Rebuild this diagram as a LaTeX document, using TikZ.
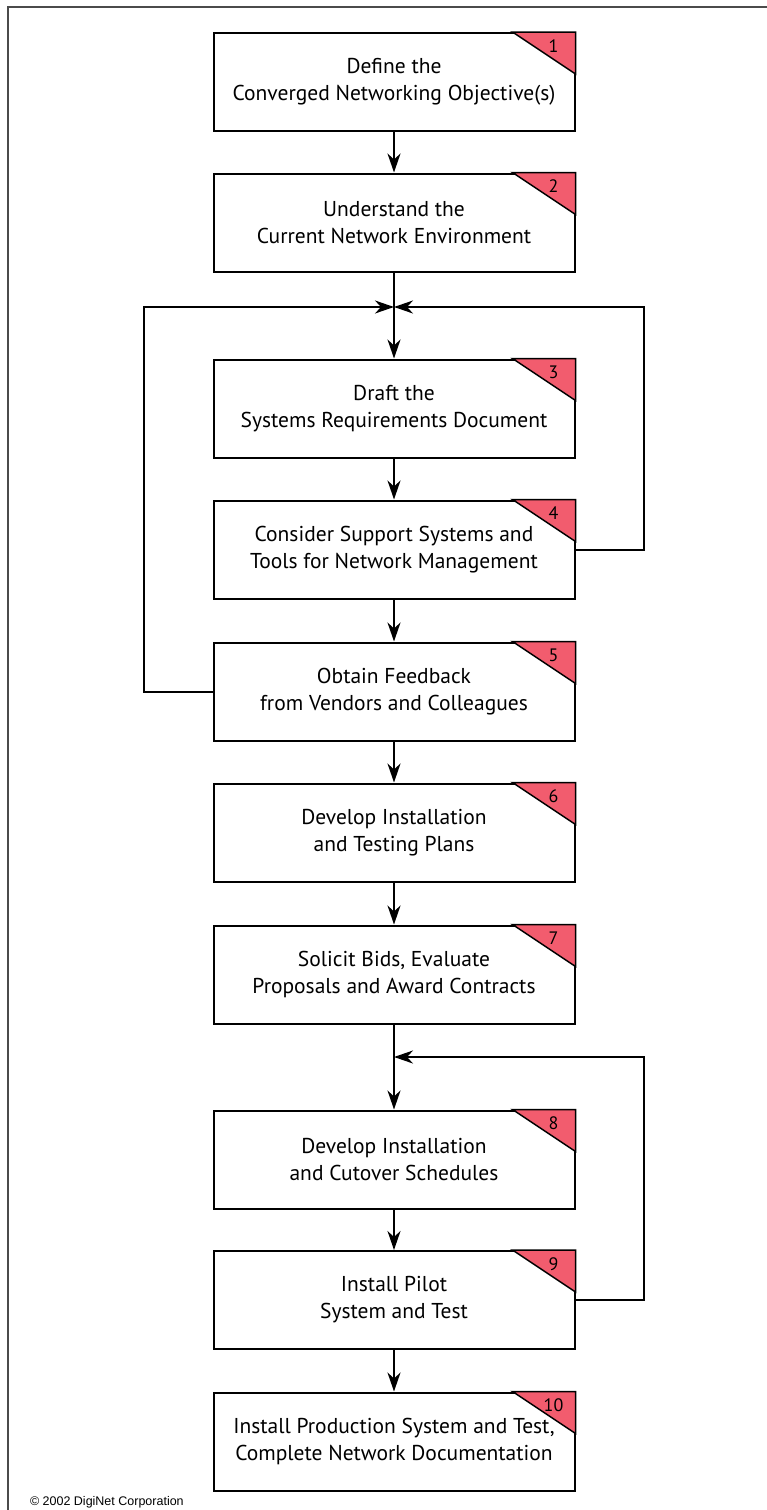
\documentclass[tikz,border=0pt]{standalone}
\usepackage{fontspec}
\setmainfont{PT Sans}
\newfontfamily\copyfont{Liberation Sans}
\usetikzlibrary{arrows.meta}
\definecolor{tabred}{RGB}{242,92,110}
\definecolor{framegray}{RGB}{75,75,75}
\tikzset{
  stepbox/.style = {draw, minimum width=361pt, minimum height=98pt, inner sep=0pt,
                    align=center, font=\fontsize{21.5}{27}\selectfont},
  stepnum/.style = {font=\fontsize{18}{18}\selectfont, inner sep=0pt},
  flow/.style = {-{Stealth[length=19pt,width=13pt,inset=6pt]}}
}

\begin{document}
\begin{tikzpicture}
      [x=1pt, y=-1pt, line width=2pt]
      \useasboundingbox (0,0) rectangle (767,1510);
      \draw[framegray, line width=1.5pt] (8,1510) -- (8,7) -- (767,7);
      % the ten steps
      \foreach \n/\y/\txt in {1/82/{Define the\\Converged Networking Objective(s)},
                              2/222.5/{Understand the\\Current Network Environment},
                              3/408.5/{Draft the\\Systems Requirements Document},
                              4/549.5/{Consider Support Systems and\\Tools for Network Management},
                              5/691.5/{Obtain Feedback\\from Vendors and Colleagues},
                              6/832.5/{Develop Installation\\and Testing Plans},
                              7/974.5/{Solicit Bids, Evaluate\\Proposals and Award Contracts},
                              8/1159.5/{Develop Installation\\and Cutover Schedules},
                              9/1300/{Install Pilot\\System and Test},
                              10/1441.5/{Install Production System and Test,\\Complete Network Documentation}}
      {
        \node[stepbox] (s\n) at (394,\y) {\txt};
        \draw[fill=tabred, line width=1.5pt] (s\n.north east) -- ++(-63,0) -- ++(63,42) -- cycle;
        \node[stepnum] (n\n) at ([shift={(-22,14)}]s\n.north east) {\n};
      }
      \coordinate (j1) at (394,307);
      \coordinate (j2) at (394,1057);
      \foreach \a/\b in {1/2, 3/4, 4/5, 5/6, 6/7, 8/9, 9/10}
        \draw[flow] (s\a) -- (s\b);
      \draw (s2) -- (j1);
      \draw[flow] (j1) -- (s3);
      \draw (s7) -- (j2);
      \draw[flow] (j2) -- (s8);
      % feedback loops
      \draw[flow] (s5.west) -- ++(-69,0) |- (j1);
      \draw[flow] (s4.east) -- ++(68,0) |- (j1);
      \draw[flow] (s9.east) -- ++(68,0) |- (j2);
      \node[anchor=west, inner sep=0pt, font=\copyfont\fontsize{12.5}{14}\selectfont] (copy) at (29,1502) {© 2002 DigiNet Corporation};
\end{tikzpicture}
\end{document}
